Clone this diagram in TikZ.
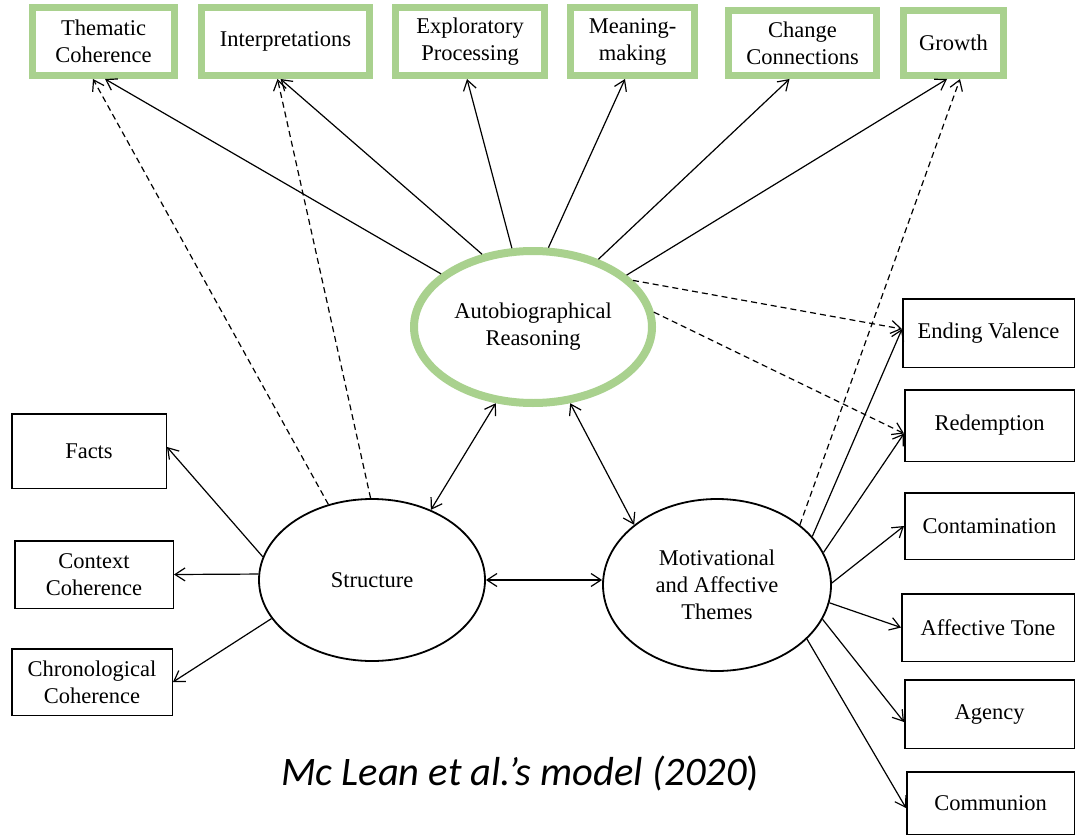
\documentclass[tikz,border=0pt]{standalone}
\usepackage{fontspec}
\usetikzlibrary{shapes.geometric,arrows.meta}
\newfontfamily\tnr{Liberation Serif}
\newfontfamily\calib{Carlito}
\definecolor{greenc}{RGB}{169,209,142}
\newcommand\bfnt{\tnr\fontsize{22.5}{27}\selectfont}
\tikzset{
 gbox/.style={draw=greenc, line width=7pt, fill=white, inner sep=0pt, align=center, font=\bfnt},
 bbox/.style={draw=black, line width=1.5pt, fill=white, inner sep=0pt, align=center, font=\bfnt},
 ell/.style={ellipse, draw=black, line width=1.8pt, inner sep=0pt, align=center, font=\bfnt},
 arr/.style={-{Straight Barb[length=10pt,width=13pt]}, line width=1.2pt},
 dbl/.style={{Straight Barb[length=10pt,width=13pt]}-{Straight Barb[length=10pt,width=13pt]}, line width=1.2pt},
 dsh/.style={dash pattern=on 6pt off 4pt},
}
\begin{document}
\begin{tikzpicture}[x=1pt,y=-1pt]
\fill[white] (0,0) rectangle (1076,837);
\useasboundingbox (0,0) rectangle (1076,837);
% top boxes
\node[gbox, minimum width=142pt, minimum height=68pt] (them) at (103.5,41.5) {Thematic\\Coherence};
\node[gbox, minimum width=168pt, minimum height=68pt] (interp) at (285.5,41.5) {Interpretations};
\node[gbox, minimum width=149pt, minimum height=68pt] (expl) at (470,41.5) {Exploratory\\Processing};
\node[gbox, minimum width=124pt, minimum height=68pt] (mean) at (632.5,41.5) {Meaning-\\making};
\node[gbox, minimum width=148pt, minimum height=65pt] (chg) at (802.5,43) {Change\\Connections};
\node[gbox, minimum width=100pt, minimum height=65pt] (grw) at (953.5,43) {Growth};
% ellipses
\node[ell, draw=greenc, line width=8pt, minimum width=238pt, minimum height=152pt] (AR) at (533,327) {Autobiographical\\Reasoning};
\node[ell, minimum width=226pt, minimum height=162pt] (S) at (372,580) {Structure};
\node[ell, minimum width=228pt, minimum height=172pt] (M) at (717,585) {Motivational\\and Affective\\Themes};
% left boxes
\node[bbox, minimum width=154.5pt, minimum height=74.5pt] (facts) at (89,451) {Facts};
\node[bbox, minimum width=158.5pt, minimum height=67.5pt] (ctx) at (94,574.5) {Context\\Coherence};
\node[bbox, minimum width=160.5pt, minimum height=66.5pt] (chr) at (92,682) {Chronological\\Coherence};
% right boxes
\node[bbox, minimum width=171.5pt, minimum height=68.5pt] (ev) at (988.5,333) {Ending Valence};
\node[bbox, minimum width=169.5pt, minimum height=71.5pt] (red) at (989.5,425.5) {Redemption};
\node[bbox, minimum width=169.5pt, minimum height=66.5pt] (con) at (989.5,526) {Contamination};
\node[bbox, minimum width=172.5pt, minimum height=67.5pt] (aff) at (988,627.5) {Affective Tone};
\node[bbox, minimum width=169.5pt, minimum height=68.5pt] (agn) at (989.5,714) {Agency};
\node[bbox, minimum width=167.5pt, minimum height=62.5pt] (com) at (990.5,803) {Communion};
% AR to top
\draw[arr] (AR.150.1) -- ([xshift=1.5pt]them.south);
\draw[arr] (AR.125.3) -- ([xshift=-5pt]interp.south);
\draw[arr] (AR.105.8) -- ([xshift=-3pt]expl.south);
\draw[arr] (AR.79.2) -- ([xshift=-7.5pt]mean.south);
\draw[arr] (AR.46.6) -- ([xshift=-13pt]chg.south);
\draw[arr] (AR.29.8) -- ([xshift=-6.5pt]grw.south);
% dashed from structure / themes to top
\draw[arr,dsh] (S.120.3) -- ([xshift=-10.5pt]them.south);
\draw[arr,dsh] (S.91.4) -- ([xshift=-8pt]interp.south);
\draw[arr,dsh] (M.36.8) -- ([xshift=6.5pt]grw.south);
% AR dashed right
\draw[arr,dsh] (AR.25.9) -- ([yshift=4pt]ev.west);
\draw[arr,dsh] (AR.7) -- ([yshift=-8pt]red.west);
% M to right
\draw[arr] (M.27.3) -- ([yshift=4pt]ev.west);
\draw[arr] (M.17.5) -- ([yshift=-8pt]red.west);
\draw[arr] (M.1) -- (con.west);
\draw[arr] (M.-9.1) -- (aff.west);
\draw[arr] (M.-18.8) -- ([yshift=-8pt]agn.west);
\draw[arr] (M.-31.2) -- ([yshift=-5pt]com.west);
% structure
\draw[arr] (S.168.8) -- ([yshift=4pt]facts.east);
\draw[arr] (S.177.4) -- (ctx.east);
\draw[arr] (S.201.5) -- (chr.east);
\draw[dbl] (S.50.1) -- (AR.244);
\draw[dbl] (AR.296.6) -- (M.144.4);
\draw[dbl] (S.east) -- (S.east -| M.west);
% caption
\node[font=\calib\fontsize{40.5}{48}\selectfont, anchor=base] (cap) at (520,785) {\itshape Mc Lean et al.’s model (2020\upshape)};
\end{tikzpicture}
\end{document}
